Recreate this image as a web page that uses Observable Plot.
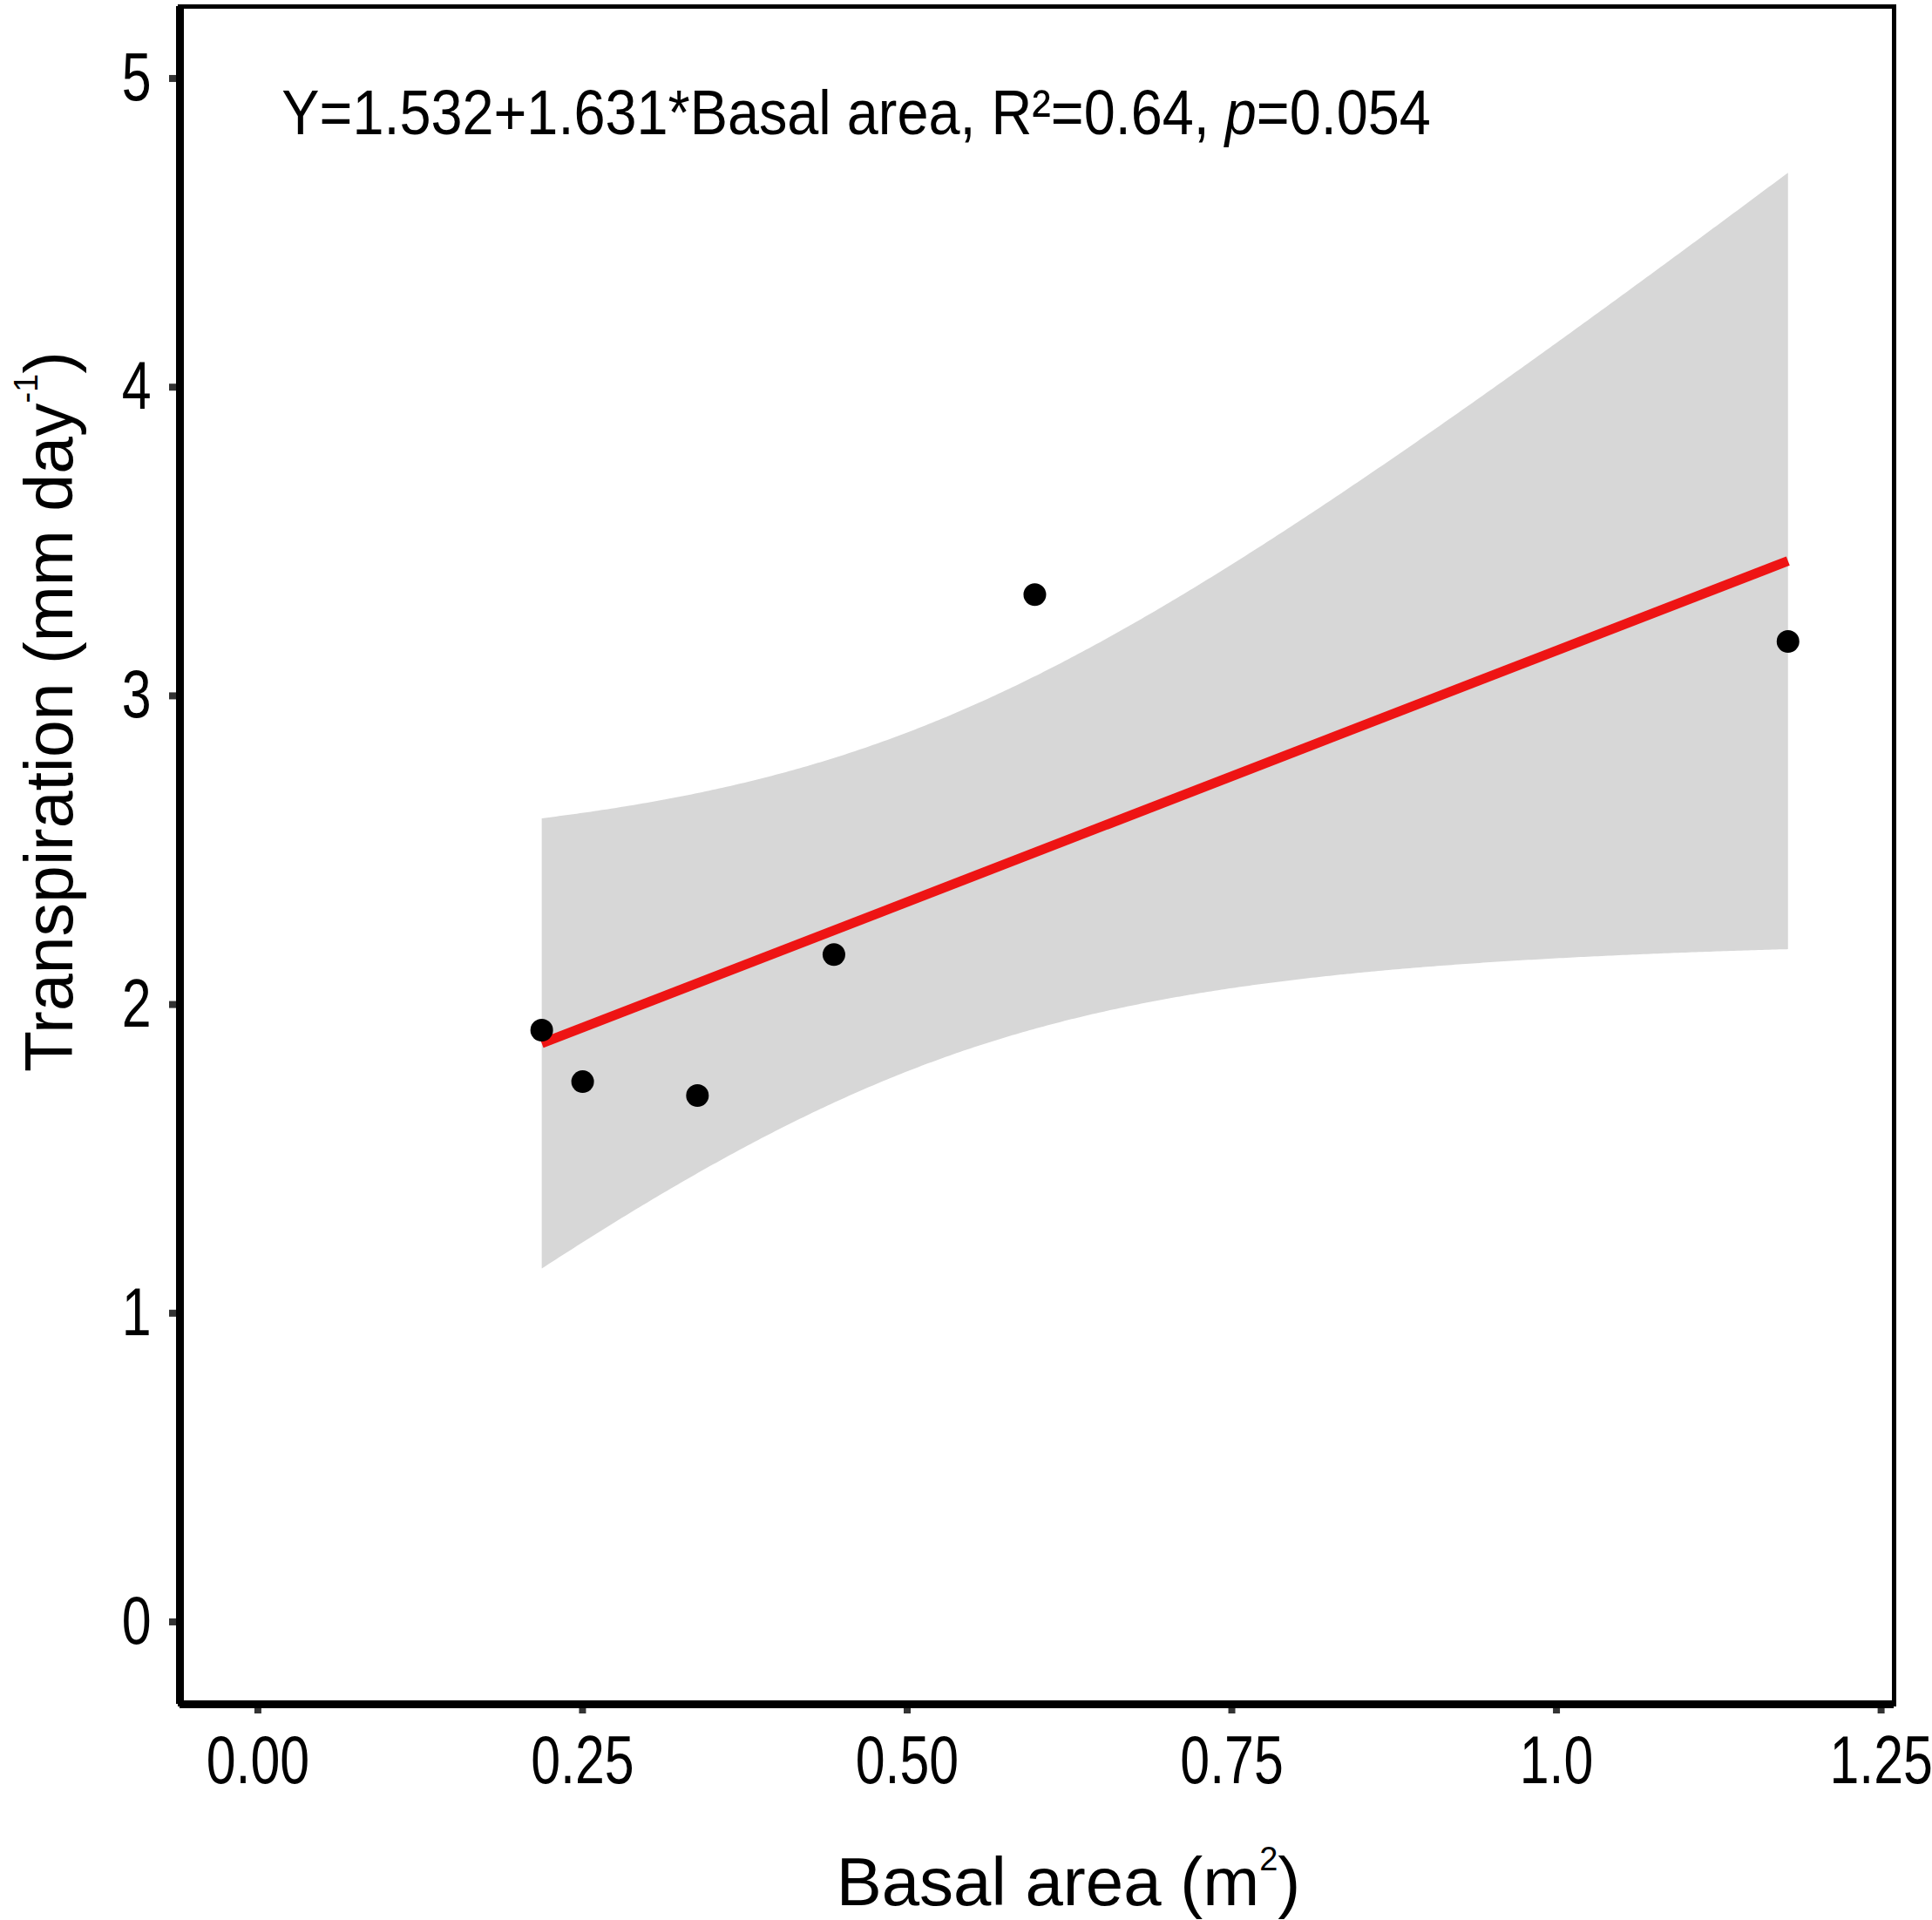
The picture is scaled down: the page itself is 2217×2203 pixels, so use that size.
<!DOCTYPE html>
<html><head><meta charset="utf-8">
<script src="https://cdn.jsdelivr.net/npm/d3@7"></script>
<script src="https://cdn.jsdelivr.net/npm/@observablehq/plot@0.6"></script>
<style>html,body{margin:0;padding:0;background:#fff;} svg{display:block}</style>
</head><body><div id="chart"></div>
<script>
// ---- data ----
const basalArea     = [0.2186, 0.2501, 0.3385, 0.4436, 0.5983, 1.1783];
const transpiration = [1.934, 1.767, 1.722, 2.179, 3.345, 3.193];
const xTicks = [0, 0.25, 0.5, 0.75, 1.0, 1.25];
const xTickLabels = ["0.00", "0.25", "0.50", "0.75", "1.0", "1.25"];
const yTicks = [0, 1, 2, 3, 4, 5];
const yTickLabels = ["0", "1", "2", "3", "4", "5"];
const xDomain = [-0.06, 1.26];
const yDomain = [-0.25, 5.25];
const annotationText = ["Y=1.532+1.631*Basal area, R²=0.64, ", "p", "=0.054"];
const annotationAt = [0.0184, 4.836];
const xTitle = ["Basal area (m", "2", ")"];
const yTitle = ["Transpiration (mm day", "-1", ")"];

const data = basalArea.map((x, i) => ({x, y: transpiration[i]}));
const regular = '"Liberation Sans",Arial,sans-serif';

const plot = Plot.plot({
  width: 2217, height: 2203,
  marginLeft: 206, marginRight: 44, marginTop: 7, marginBottom: 248,
  x: {domain: xDomain, label: null},
  y: {domain: yDomain, label: null},
  style: {fontFamily: regular, background: "#fff", color: "#000"},
  marks: [
    Plot.linearRegressionY(data, {x: "x", y: "y", ci: 0.95, stroke: "#ee1414", strokeWidth: 11,
      strokeLinecap: "butt", fill: "#d7d7d7", fillOpacity: 1}),
    Plot.dot(data, {x: "x", y: "y", r: 13, fill: "#000", stroke: null}),
    Plot.axisX({ticks: xTicks, tickFormat: d => xTickLabels[xTicks.indexOf(d)], tickSize: 11, tickPadding: 24,
      fontSize: 78, stroke: "#333", strokeWidth: 8, fill: "#000", label: null}),
    Plot.axisY({ticks: yTicks, tickFormat: d => yTickLabels[yTicks.indexOf(d)], tickSize: 12, tickPadding: 21,
      fontSize: 78, stroke: "#333", strokeWidth: 8, fill: "#000", label: null, dy: -6}),
    Plot.frame({stroke: "#000", strokeWidth: 5}),
    Plot.ruleX([xDomain[0]], {stroke: "#000", strokeWidth: 9}),
    Plot.ruleY([yDomain[0]], {stroke: "#000", strokeWidth: 9}),
    Plot.text([annotationText.join("")], {x: () => annotationAt[0], y: () => annotationAt[1], textAnchor: "start",
      lineAnchor: "bottom", fontSize: 72, fill: "#000"}),
    Plot.text([xTitle.join("")], {frameAnchor: "bottom", dx: 36, dy: 230, lineAnchor: "bottom",
      fontSize: 78, fill: "#000"}),
    Plot.text([yTitle.join("")], {frameAnchor: "left", rotate: -90, dx: -124, dy: -165, lineAnchor: "bottom",
      textAnchor: "middle", fontSize: 77, fill: "#000"})
  ]
});
document.getElementById("chart").append(plot);

const svg = d3.select(plot);
// narrow (Arial-Narrow-like) look: condense glyphs horizontally about each text's anchor
function condense(sel, k) {
  sel.each(function () {
    const t = d3.select(this);
    const tr = t.attr("transform") || "";
    t.attr("transform", tr + ` scale(${k},1)`);
  });
}
// rich text: italic p and superscripts
svg.selectAll("text").filter(function () { return this.textContent === annotationText.join(""); }).each(function () {
  const t = d3.select(this).text("");
  t.append("tspan").text(annotationText[0]);
  t.append("tspan").attr("font-style", "italic").text(annotationText[1]);
  t.append("tspan").text(annotationText[2]);
  condense(t, 0.9);
});
svg.selectAll("text").filter(function () {
  return xTickLabels.includes(this.textContent) || yTickLabels.includes(this.textContent);
}).call(condense, 0.78);

function superscript(parts, fs) {
  svg.selectAll("text").filter(function () { return this.textContent === parts.join(""); }).each(function () {
    const t = d3.select(this).text("");
    t.append("tspan").text(parts[0]);
    t.append("tspan").attr("font-size", 38).attr("dy", -40).text(parts[1]);
    t.append("tspan").attr("font-size", fs).attr("dy", 40).text(parts[2]);
  });
}
superscript(xTitle, 78);
superscript(yTitle, 77);
</script>
</body></html>
